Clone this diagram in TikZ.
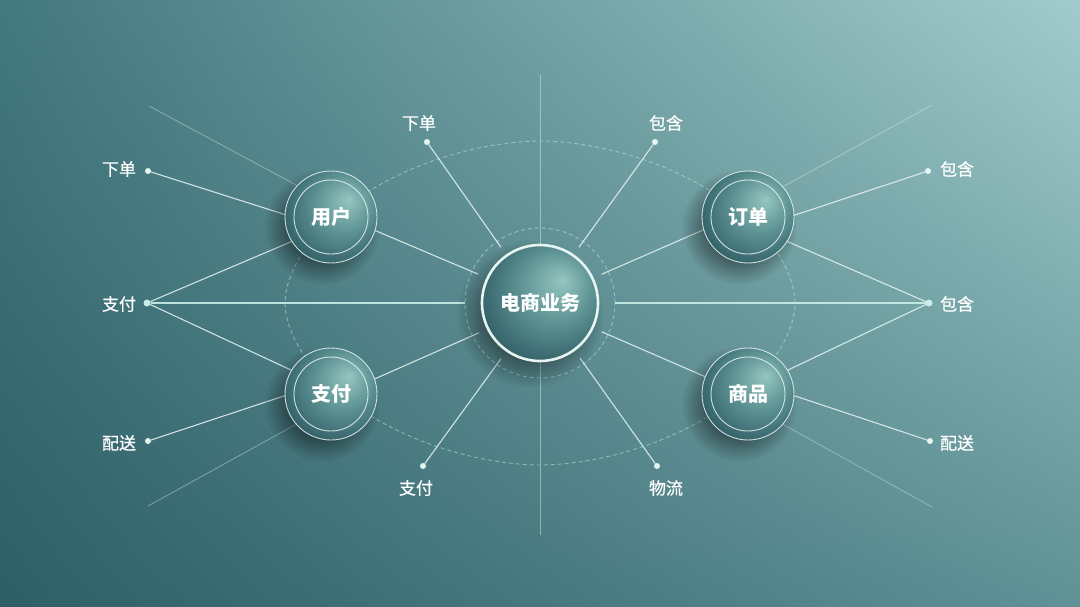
\documentclass[tikz,border=0pt]{standalone}
\usepackage{fontspec}
\newfontfamily\cjk{Noto Sans CJK SC}
\newfontfamily\cjkm{Noto Sans CJK SC}[FakeBold=0.6]
\usetikzlibrary{fadings,shadings}
\definecolor{bgLL}{HTML}{2E5E66}
\definecolor{bgUL}{HTML}{43787F}
\definecolor{bgUR}{HTML}{A2CCCB}
\definecolor{bgLR}{HTML}{5F9196}
\definecolor{cLight}{HTML}{95C6C0}
\definecolor{cMid}{HTML}{5C9193}
\definecolor{cDark}{HTML}{2A565F}
\definecolor{lineC}{HTML}{E6F5F2}
\definecolor{hlineC}{HTML}{C9EEE9}
\pgfdeclareradialshading{orb}{\pgfpoint{10bp}{10bp}}{color(0bp)=(cLight); color(16bp)=(cMid); color(34bp)=(cDark); color(50bp)=(cDark)}
\tikzfading[name=shfade, inner color=transparent!5, outer color=transparent!100]
\pgfdeclarelayer{back}
\pgfdeclarelayer{lines}
\pgfdeclarelayer{shadow}
\pgfsetlayers{back,lines,shadow,main}
\begin{document}
\begin{tikzpicture}[x=1pt,y=-1pt,
  sat/.style={circle, minimum size=92pt, inner sep=0pt, outer sep=0pt, shade, shading=orb,
    draw=lineC, draw opacity=.85, line width=.9pt, text=white,
    font=\cjk\bfseries\fontsize{20}{24}\selectfont},
  hub/.style={circle, minimum size=116pt, inner sep=0pt, outer sep=0pt, shade, shading=orb,
    draw=lineC, line width=2.6pt, text=white,
    font=\cjk\bfseries\fontsize{20}{24}\selectfont},
  halo/.style={circle, inner sep=0pt, outer sep=0pt},
  ring/.style={draw=lineC, draw opacity=.85, line width=.9pt},
  dot/.style={circle, fill=lineC, inner sep=0pt, outer sep=0pt, minimum size=6pt},
  bigdot/.style={circle, fill=hlineC, inner sep=0pt, outer sep=0pt, minimum size=7pt},
  lbl/.style={text=white, inner sep=0pt, font=\cjkm\fontsize{17}{20}\selectfont},
  spoke/.style={draw=lineC, line width=1.1pt, draw opacity=.85},
  hspoke/.style={draw=hlineC, line width=1.4pt, draw opacity=.9},
  faint/.style={draw=lineC, line width=.8pt, draw opacity=.4},
  vline/.style={draw=lineC, line width=1pt, draw opacity=.45},
  dashring/.style={draw=hlineC, line width=.9pt, draw opacity=.5, dash pattern=on 4pt off 3pt}
]
\useasboundingbox (0,0) rectangle (1080,606);

% nodes
\node[hub] (hub) at (540,303) {电商业务};
\node[halo, minimum size=136pt] (hubr) at (540,303) {};
\node[halo, minimum size=150pt] (hubd) at (540,303) {};

\node[sat] (u) at (331,217) {用户};
\node[sat] (p) at (331,394) {支付};
\node[sat] (o) at (748,217) {订单};
\node[sat] (g) at (748,394) {商品};
\foreach \n in {u,p,o,g} \draw[ring] (\n.center) circle[radius=37pt];

% dots
\node[dot] (d1) at (148,171) {};
\node[bigdot] (d2) at (147,303) {};
\node[dot] (d3) at (148,441) {};
\node[dot] (d4) at (427,142) {};
\node[dot] (d5) at (655,142) {};
\node[dot] (d6) at (928,171) {};
\node[bigdot] (d7) at (929,303) {};
\node[dot] (d8) at (930,441) {};
\node[dot] (d9) at (423,466) {};
\node[dot] (d10) at (657,466) {};

% labels
\node[lbl] (l1) at (119,169) {下单};
\node[lbl] (l2) at (119,304) {支付};
\node[lbl] (l3) at (119,443) {配送};
\node[lbl] (l4) at (419,123) {下单};
\node[lbl] (l5) at (666,123) {包含};
\node[lbl] (l6) at (957,169) {包含};
\node[lbl] (l7) at (957,304) {包含};
\node[lbl] (l8) at (957,443) {配送};
\node[lbl] (l9) at (416,488) {支付};
\node[lbl] (l10) at (666,488) {物流};

\coordinate (f1) at (149,106);
\coordinate (f2) at (148,506);
\coordinate (f3) at (932,105);
\coordinate (f4) at (932,507);
\coordinate (vt) at (540,75);
\coordinate (vb) at (540,535);

\begin{pgfonlayer}{back}
\shade[upper left=bgUL, upper right=bgUR, lower left=bgLL, lower right=bgLR] (0,0) rectangle (1080,606);
\end{pgfonlayer}

\begin{pgfonlayer}{lines}
\draw[dashring] plot[domain=0:360, samples=240, smooth]
  ({540+255*cos(\x)*(max(abs(cos(\x)),0.0001))^0.111}, {303-162*sin(\x)*(max(abs(sin(\x)),0.0001))^0.111}) -- cycle;
\draw[dashring] (hubd.center) circle[radius=75pt];

\draw[vline] (vt) -- (hub.90);
\draw[vline] (hub.-90) -- (vb);

\draw[faint] (f1) -- (u.137);
\draw[faint] (f2) -- (p.221);
\draw[faint] (f3) -- (o.41);
\draw[faint] (f4) -- (g.-41);

\draw[spoke] (d1) -- (u.177.5);
\draw[spoke] (d2) -- (u.212);
\draw[spoke] (d2) -- (p.149);
\draw[hspoke] (d2) -- (hubd.180);
\draw[spoke] (d3) -- (p.182.5);

\draw[spoke] (d6) -- (o.2.5);
\draw[spoke] (d7) -- (o.-32);
\draw[spoke] (d7) -- (g.31);
\draw[hspoke] (d7) -- (hubd.0);
\draw[spoke] (d8) -- (g.-2.5);

\draw[spoke] (u.-17) -- (hubr.155);
\draw[spoke] (p.19) -- (hubr.206);
\draw[spoke] (o.196) -- (hubr.25);
\draw[spoke] (g.158) -- (hubr.-25);

\draw[spoke] (d4) -- (hubr.125);
\draw[spoke] (d5) -- (hubr.55);
\draw[spoke] (d9) -- (hubr.235);
\draw[spoke] (d10) -- (hubr.-54);
\end{pgfonlayer}

\begin{pgfonlayer}{shadow}
\foreach \n in {u,p,o,g}
  \fill[black, path fading=shfade] ([shift={(-9pt,-10pt)}]\n.center) circle[radius=58pt];
\fill[black, path fading=shfade] ([shift={(-10pt,-11pt)}]hub.center) circle[radius=74pt];
\end{pgfonlayer}
\end{tikzpicture}
\end{document}
